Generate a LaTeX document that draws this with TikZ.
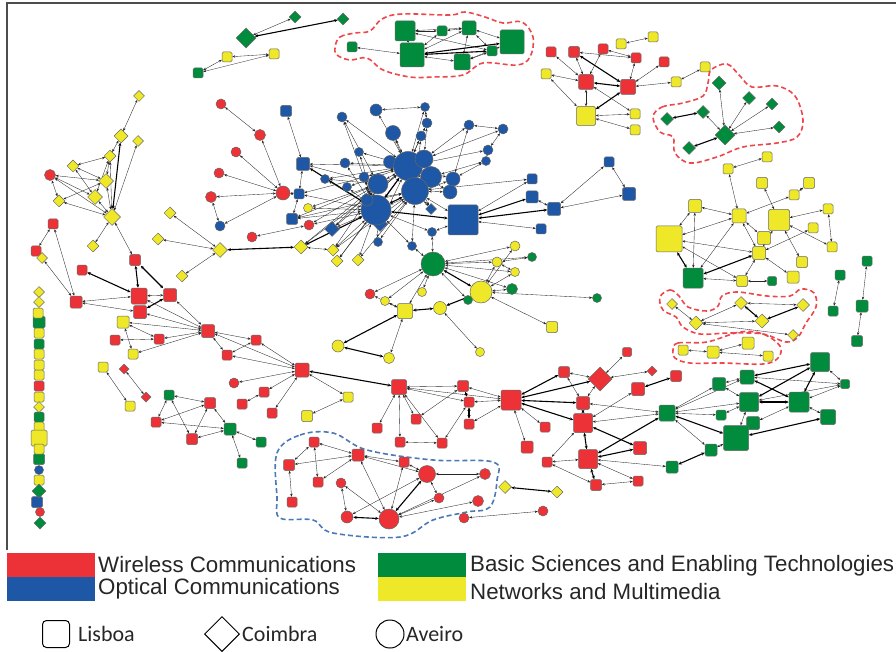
\documentclass[tikz,border=0pt]{standalone}
\usepackage{fontspec}
\setmainfont{Liberation Sans}
\newfontfamily\cityfont{Carlito}
\usetikzlibrary{%
	arrows.meta,%
	shapes.geometric,%
	backgrounds
}
\definecolor{wirered}{RGB}{237,50,55}
\definecolor{optblue}{RGB}{30,87,165}
\definecolor{basgreen}{RGB}{0,140,60}
\definecolor{netyellow}{RGB}{238,232,40}
\tikzset{
	vtx/.style={draw=black!60, line width=0.5pt, inner sep=0pt},
	lis/.style={vtx, rectangle, rounded corners=1.5pt},
	coi/.style={vtx, diamond, aspect=1},
	ave/.style={vtx, circle},
	wc/.style={fill=wirered},
	oc/.style={fill=optblue},
	bs/.style={fill=basgreen},
	nm/.style={fill=netyellow},
	link/.style={<->, >={Stealth[length=3pt,width=2.4pt]}, line width=0.35pt, black!85},
	strong/.style={<->, >={Stealth[length=3.5pt,width=3pt]}, line width=1.1pt, black},
	hull/.style={dashed, dash pattern=on 5pt off 3pt, line width=1.6pt},
	legtext/.style={anchor=west, inner sep=0pt, text=black!85, font=\fontsize{22.3pt}{24pt}\selectfont},
	citytext/.style={anchor=west, inner sep=0pt, text=black!85, font=\cityfont\fontsize{22pt}{24pt}\selectfont}
}

\begin{document}
\begin{tikzpicture}[x=1pt, y=-1pt]
	\useasboundingbox (0,0) rectangle (896,652);
	\draw[black!70, line width=1.4pt] (7,550) -- (7,3) -- (896,3);

	% Lisboa
	\foreach \n/\x/\y/\s in {w1/551/52/10, w2/574/52/11, w3/603/49/10, w4/636/58/10, w5/664/62/10,
		w6/586/82/15, w7/628/87/15, w8/53/224/10, w9/36/251/10, w10/82/270/10, w11/135/260/11,
		w12/139/296/16, w13/170/295/13, w14/140/312/13, w15/76/302/12, w16/115/340/10, w17/159/339/10,
		w18/208/331/13, w19/256/340/10, w20/227/355/10, w21/302/370/14, w22/264/392/10, w23/242/404/10,
		w24/272/413/10, w25/399/387/15, w26/377/428/10, w27/416/419/10, w28/400/442/10, w29/442/443/10,
		w30/463/386/11, w31/469/402/10, w32/469/424/10, w33/511/400/20, w34/564/372/11, w35/627/352/9,
		w36/676/376/11, w37/638/389/13, w38/583/403/13, w39/545/427/10, w40/583/423/19, w41/527/447/12,
		w42/588/459/19, w43/547/462/10, w44/640/448/13, w45/596/485/11, w46/638/481/10, w47/210/403/11,
		w48/156/422/10, w49/192/439/11, w50/39/386/10, w51/314/442/10, w52/289/465/11, w53/358/455/12,
		w54/318/482/10, w55/292/502/10, w56/404/462/10}
		\node[lis, wc, minimum size=\s pt] (\n) at (\x,\y) {};
	\foreach \n/\x/\y/\s in {o1/286/111/11, o2/303/164/13, o3/299/194/10, o4/292/219/11, o5/463/220/30,
		o6/532/179/10, o7/532/197/12, o8/554/209/13, o9/609/162/10, o10/629/194/13, o11/541/229/10,
		o12/37/502/11}
		\node[lis, oc, minimum size=\s pt] (\n) at (\x,\y) {};
	\foreach \n/\x/\y/\s in {b1/198/73/10, b2/352/47/10, b3/405/31/20, b4/412/55/24, b5/442/31/10,
		b6/469/28/14, b7/512/42/24, b8/492/51/10, b9/462/62/16, b10/693/278/20, b11/772/281/9,
		b12/867/261/10, b13/840/275/10, b14/833/311/10, b15/862/306/12, b16/857/341/11, b17/667/413/16,
		b18/719/384/13, b19/747/377/14, b20/749/402/19, b21/799/402/20, b22/820/362/19, b23/845/384/9,
		b24/828/417/15, b25/721/415/10, b26/753/423/13, b27/736/438/25, b28/711/450/12, b29/672/467/12,
		b30/169/395/10, b31/230/429/12, b32/261/442/10, b33/242/463/10, b34/39/322/12, b35/39/344/10,
		b36/39/417/10, b37/39/459/11}
		\node[lis, bs, minimum size=\s pt] (\n) at (\x,\y) {};
	\foreach \n/\x/\y/\s in {n1/227/57/10, n2/274/54/10, n3/546/74/10, n4/586/116/19, n5/635/114/10,
		n6/635/130/10, n7/621/44/10, n8/653/37/10, n9/676/82/10, n10/705/67/10, n11/123/322/12,
		n12/133/354/10, n13/103/367/10, n14/130/406/10, n15/348/397/10, n16/307/416/11, n17/405/311/15,
		n18/552/327/11, n19/728/169/10, n20/767/157/10, n21/762/183/11, n22/809/183/11, n23/794/195/10,
		n24/695/206/13, n25/739/216/14, n26/779/220/21, n27/828/209/10, n28/669/239/26, n29/764/238/13,
		n30/813/228/10, n31/832/247/10, n32/759/253/13, n33/802/262/11, n34/742/281/11, n35/793/277/12,
		n36/683/350/10, n37/713/352/12, n38/748/343/12, n39/768/356/10, n40/38/313/10, n41/39/333/10,
		n42/39/354/10, n43/39/365/10, n44/39/375/10, n45/39/397/10, n46/39/427/10, n47/39/438/16,
		n48/39/449/10, n49/39/480/10}
		\node[lis, nm, minimum size=\s pt] (\n) at (\x,\y) {};

	% Coimbra
	\foreach \n/\x/\y/\s in {b38/246/38/20, b39/295/17/12, b40/343/19/12, b41/719/83/14, b42/749/98/13,
		b43/772/104/12, b44/779/127/12, b45/703/112/13, b46/667/119/13, b47/725/135/20, b48/689/148/13,
		b49/39/491/14, b50/40/523/12}
		\node[coi, bs, minimum size=\s pt] (\n) at (\x,\y) {};
	\foreach \n/\x/\y/\s in {n50/139/96/11, n51/121/136/14, n52/138/141/11, n53/110/156/12, n54/73/166/12,
		n55/106/181/15, n56/95/197/15, n57/59/201/12, n58/112/217/17, n59/93/246/12, n60/42/258/11,
		n61/170/213/12, n62/158/239/12, n63/220/250/15, n64/182/276/12, n65/301/247/14, n66/333/250/12,
		n67/337/261/12, n68/358/260/12, n69/672/304/11, n70/696/323/14, n71/741/303/13, n72/803/305/13,
		n73/762/321/14, n74/793/335/11, n75/505/487/13, n76/557/492/12, n77/39/292/11, n78/39/302/11,
		n79/39/407/11}
		\node[coi, nm, minimum size=\s pt] (\n) at (\x,\y) {};
	\foreach \n/\x/\y/\s in {w57/124/369/10, w58/146/397/10, w59/600/379/24, w60/652/371/10}
		\node[coi, wc, minimum size=\s pt] (\n) at (\x,\y) {};
	\foreach \n/\x/\y/\s in {o13/332/229/15, o14/380/224/15, o15/431/209/11}
		\node[coi, oc, minimum size=\s pt] (\n) at (\x,\y) {};

	% Aveiro
	\foreach \n/\x/\y/\s in {w61/221/104/10, w62/260/135/11, w63/236/152/10, w64/219/173/10, w65/211/197/11,
		w66/283/193/14, w67/252/237/10, w68/309/225/10, w69/50/175/11, w70/234/383/10, w71/370/294/10,
		w72/427/474/17, w73/341/483/10, w74/439/498/10, w75/347/517/12, w76/389/519/20, w77/485/474/11,
		w78/478/501/11, w79/464/518/10, w80/543/511/10, w81/40/512/9}
		\node[ave, wc, minimum size=\s pt] (\n) at (\x,\y) {};
	\foreach \n/\x/\y/\s in {o16/376/110/12, o17/425/107/9, o18/427/123/10, o19/469/125/10, o20/503/129/10,
		o21/488/150/10, o22/486/161/9, o23/342/117/10, o24/393/133/15, o25/421/136/10, o26/359/152/9,
		o27/345/163/10, o28/325/179/9, o29/347/187/9, o30/364/177/10, o31/378/184/20, o32/390/162/13,
		o33/408/166/29, o34/424/159/18, o35/431/177/21, o36/453/179/14, o37/450/192/14, o38/415/191/27,
		o39/376/210/30, o40/367/200/12, o41/432/232/9, o42/412/246/9, o43/378/242/9, o44/220/226/10,
		o45/39/470/9}
		\node[ave, oc, minimum size=\s pt] (\n) at (\x,\y) {};
	\foreach \n/\x/\y/\s in {b51/433/264/24, b52/532/257/9, b53/512/289/11, b54/468/300/9, b55/597/298/9}
		\node[ave, bs, minimum size=\s pt] (\n) at (\x,\y) {};
	\foreach \n/\x/\y/\s in {n80/308/208/9, n81/515/246/10, n82/497/262/10, n83/515/272/9, n84/481/292/22,
		n85/385/301/9, n86/422/292/9, n87/440/308/13, n88/338/346/12, n89/389/358/11, n90/480/352/9}
		\node[ave, nm, minimum size=\s pt] (\n) at (\x,\y) {};

	\begin{scope}[on background layer]
		% Collaborations
		\foreach \a/\b in {b38/b39, n1/n2, b1/n1, b1/n2,
			b2/b4, b3/b5, b3/b6, b4/b6, b4/b9, b6/b7, b6/b9, b6/b8, b9/b8, b5/b6, b3/b8, b9/b7, b4/b5,
			w6/w1, w6/w3, w6/w2, w2/w4, w7/w4, w7/w5, w6/n3, n3/n4, w6/n4, n4/n5, n4/n6, w6/n5, w7/n9,
			n9/n10, n7/n8, w3/w4,
			b47/b41, b47/b42, b47/b43, b47/b44, b47/b45,
			o1/o2, o2/o3, o3/w66, o3/o4, w61/w62, w62/w66, w63/w66, w64/w66, w65/w66, w65/o44, o44/w66,
			w67/w68, o3/o39, o4/o39, w68/o39, n80/o39, o13/o39, o26/o33, o27/o33, o28/o39, o29/o39,
			o30/o33, o31/o33, o32/o33, o16/o33, o16/o17, o17/o18, o18/o33, o23/o31, o24/o33, o25/o33,
			o34/o33, o36/o33, o37/o38, o40/o33, o19/o34, o19/o20, o20/o21, o21/o22, o21/o33, o22/o35,
			o36/o19, o5/o38, o5/o6, o7/o8, o8/o9, o9/o10, o8/o10, o5/o11, o14/o39, o15/o38, o41/o39,
			o41/o5, o42/o39, o43/o39, o42/b51, o41/b51, n65/o31, n66/o39, n67/o39, n68/o39, n65/n66,
			o13/o31, o14/o33, o2/o31, o28/o31, o27/o39, o23/o33, o26/o39, o29/o33, o30/o39, o32/o38,
			o34/o38, o37/o33, o25/o38, o24/o38, o17/o33, o18/o34, o20/o34, o22/o36, o6/o38, o4/o31,
			n66/o31, n67/o33, n68/o38, w68/o31, n80/o31, o15/o33, o40/o38, o43/o38, o42/o38,
			o2/o33, o3/o33, o4/o38, o13/o33, o14/o38, n65/o33, n66/o38, o28/o33, o23/o39, o36/o39,
			b51/n81, b51/n82, b51/n83, b51/b52, b51/b53, b51/w71, b51/n85, b51/n86, b51/n17, b51/b54,
			n84/n82, n84/n81, n84/b53, n84/b55, n84/n18, n84/b54, n17/n85, n17/w71, n17/n89, n87/n90,
			n82/n83, b52/n82, n84/n83,
			n50/n51, n52/n58, n53/n58, n51/n53, n53/n54, n54/n55, n54/n56, w69/n55, w69/n56, w69/n57,
			w69/n58, n57/n55, n57/n58, n56/n58, n55/n58, n56/n53, n55/n53, n58/n59, n58/w11, w8/w9,
			w8/w15, n60/w15, w15/w12, w15/w14, w12/w13, w13/w18, w14/w18, w12/w18, n11/w18, n11/w17,
			n11/n12, w16/w17, w17/w18, n12/w18, w18/w19, w18/w20, w19/w20, w18/w21, w20/w21, w19/w21,
			n13/n14, w57/w58, w21/w70, w21/w22, w22/w23, w21/w24, w21/n15, n15/n16, w25/w26, w25/w27,
			w25/w28, w25/w29, w30/w33, w31/w33, w32/w33, w27/w30, w29/w31, w25/w30, w25/w31, w28/w29,
			w25/w33, n61/n63, n62/n63, n63/n64,
			b30/w47, b30/w48, b30/w49, w47/w48, w47/w49, w47/b31, w48/b31, w49/b31, b31/b32, b31/b33,
			w51/w52, w51/w53, w51/w54, w52/w53, w52/w55, w53/w54, w53/w56, w53/w72, w53/w76, w56/w72,
			w56/w76, w72/w75, w73/w75, w73/w76, w72/w74, w74/w76, w72/w77, w77/w76, w78/w76, w79/w80,
			w33/w39, w33/w41, w34/w59, w34/w38, w59/w38, w59/w35, w59/w60, w37/w40, w42/w43, w42/w46,
			w43/w45, w45/w46, w40/b17, w38/b17, w42/b29, w40/w43,
			b17/b18, b17/b19, b17/b20, b17/b25, b17/b28, b28/b27, b18/b19, b22/b23, b21/b23, b20/b23,
			b21/b24, b27/b20, b26/b21, b19/b23, b18/b20, b25/b20,
			n19/n20, n19/n25, n21/n26, n22/n23, n23/n25, n24/n25, n24/n28, n24/b10, n25/n28, n25/n32,
			n25/b10, n25/n29, n26/n27, n26/n31, n30/n32, n26/n33, n26/n32, n28/n34, n32/n34, n32/n35,
			n34/b10, n34/b11, n27/n31, n28/n32,
			b12/b15, b15/b16, b13/b14,
			n69/n70, n70/n71, n70/n73, n71/n72, n70/n74, n36/n37, n37/n38, n37/n39}
			\draw[link] (\a) -- (\b);
		\foreach \a/\b in {b38/b40, b3/b4, b4/b8, b4/b7, w2/w7, w7/n4, w6/w7, b47/b48, b45/b46,
			o2/o39, o39/o33, o39/o38, o33/o38, o35/o33, o38/o35, o5/o39, o5/o7, o5/o8, n65/o39, n65/n63,
			b51/n84, n84/n87, n17/n87, n17/n88, n88/n89, n51/n58, w11/w12, w11/w13, w10/w12, w14/w13,
			w21/w25, w30/w31, w31/w32, w33/w34, w33/w59, w33/w38, w33/w40, w37/w36, w38/w40, w40/w42,
			w40/w44, w42/w45, w42/w44, w42/b17, b17/b27, b28/b29, b19/b21, b19/b22, b20/b21, b20/b22,
			b22/b21, b27/b24, w72/w76, w75/w76, n75/n76, n28/b10, n32/b10, n71/n73, n73/n72}
			\draw[strong] (\a) -- (\b);

		% Communities
		\draw[hull, wirered!90] plot[smooth cycle, tension=0.6] coordinates {(335,47) (340,37) (355,33)
			(370,31) (382,19) (402,14) (450,15) (465,12) (485,17) (503,23) (522,22) (533,37) (530,57)
			(517,65) (483,63) (463,75) (433,77) (410,77) (383,70) (367,58) (350,60) (337,55)};
		\draw[hull, wirered!90] plot[smooth cycle, tension=0.6] coordinates {(653,117) (662,107) (683,103)
			(703,96) (708,83) (711,70) (727,64) (740,76) (752,87) (777,86) (795,96) (803,120) (797,137)
			(777,143) (743,147) (717,157) (690,163) (675,153) (673,137) (660,132)};
		\draw[hull, wirered!90] plot[smooth cycle, tension=0.6] coordinates {(660,297) (670,290) (679,296)
			(688,307) (707,311) (718,306) (722,296) (737,292) (767,296) (790,296) (801,289) (814,293)
			(816,307) (806,323) (798,337) (786,342) (763,334) (730,333) (700,334) (683,327) (676,317)
			(663,310)};
		\draw[hull, wirered!90] plot[smooth cycle, tension=0.6] coordinates {(673,350) (678,343) (707,342)
			(740,332) (763,334) (780,346) (778,358) (763,364) (723,363) (690,363) (675,358)};
		\draw[hull, optblue!80] plot[smooth cycle, tension=0.6] coordinates {(277,453) (300,435) (333,433)
			(367,450) (433,460) (493,462) (497,480) (490,507) (467,512) (433,520) (400,537) (333,533)
			(313,520) (280,518) (277,497)};
	\end{scope}

	% Legend
	\fill[wirered] (7,553) rectangle (95,577);
	\fill[optblue] (7,577) rectangle (95,601);
	\fill[basgreen] (378,553) rectangle (466,577);
	\fill[netyellow] (378,577) rectangle (466,601);
	\node[legtext] (lwc) at (98,565) {Wireless Communications};
	\node[legtext] (loc) at (98,589) {Optical Communications};
	\node[legtext] (lbs) at (470,566) {Basic Sciences and Enabling Technologies};
	\node[legtext] (lnm) at (470,592) {Networks and Multimedia};
	\node[draw, line width=1pt, rectangle, rounded corners=4pt, minimum size=27pt] (klis) at (56,634) {};
	\node[citytext] (tlis) at (78,634) {Lisboa};
	\node[draw, line width=1pt, diamond, aspect=1, inner sep=0pt, minimum size=35pt] (kcoi) at (222,634) {};
	\node[citytext] (tcoi) at (242,634) {Coimbra};
	\node[draw, line width=1pt, circle, minimum size=28pt] (kave) at (390,634) {};
	\node[citytext] (tave) at (406,634) {Aveiro};
\end{tikzpicture}
\end{document}
